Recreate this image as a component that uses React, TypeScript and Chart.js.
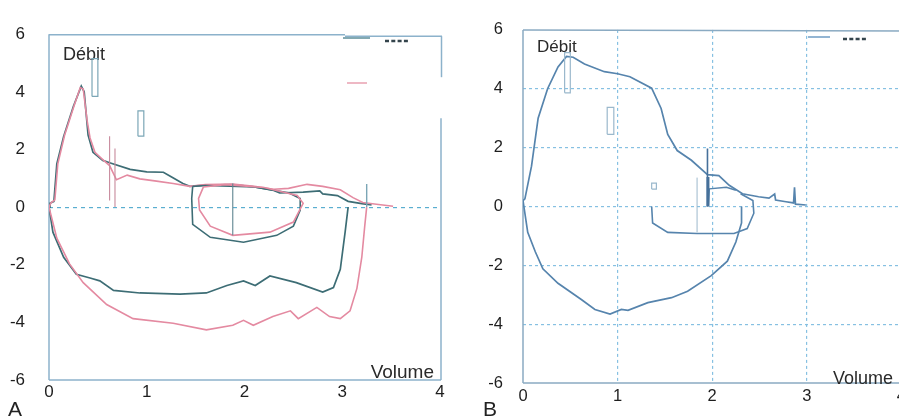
import React, { useEffect, useRef } from "react";
import { Chart, registerables } from "chart.js";
Chart.register(...registerables);

type P = [number, number];

// ---------- tick values ----------
const volumeTicks = [0, 1, 2, 3, 4];
const flowTicks = [-6, -4, -2, 0, 2, 4, 6];
const gridVolB = [1, 2, 3];
const gridFlowB = [-4, -2, 0, 2, 4];

// ---------- Panel A : dark (pre) curve ----------
const aDarkExp: P[] = [
  [0, 0], [0.01, 0.13], [0.05, 0.2], [0.08, 1.5], [0.15, 2.45], [0.25, 3.5], [0.33, 4.2],
  [0.36, 4.0], [0.4, 2.5], [0.45, 1.9], [0.55, 1.62], [0.62, 1.54], [0.83, 1.31],
  [1.0, 1.22], [1.17, 1.21], [1.25, 1.05], [1.37, 0.82], [1.44, 0.72], [1.6, 0.76],
  [1.88, 0.78], [2.1, 0.7], [2.3, 0.58], [2.36, 0.49], [2.6, 0.52], [2.77, 0.56],
  [2.8, 0.46], [2.95, 0.4], [3.06, 0.2], [3.2, 0.12], [3.3, 0.08],
];
const aDarkInsp: P[] = [
  [0, 0], [0.04, -0.87], [0.15, -1.74], [0.28, -2.33], [0.42, -2.46], [0.52, -2.56],
  [0.66, -2.89], [0.93, -2.98], [1.34, -3.02], [1.61, -2.98], [1.82, -2.72], [1.99, -2.56],
  [2.11, -2.72], [2.26, -2.39], [2.53, -2.62], [2.8, -2.95], [2.91, -2.79], [2.98, -2.16],
  [3.03, -0.85], [3.06, 0],
];
const aDarkTidal: P[] = [
  [1.47, 0.72], [1.46, 0.3], [1.47, -0.6], [1.65, -1.05], [1.99, -1.22], [2.33, -0.98],
  [2.5, -0.66], [2.57, -0.1], [2.57, 0.3], [2.45, 0.5], [2.1, 0.7], [1.6, 0.75], [1.47, 0.72],
];

// ---------- Panel A : pink (post) curve ----------
const aPinkExp: P[] = [
  [0, 0], [0.02, 0.15], [0.06, 0.25], [0.09, 1.5], [0.16, 2.5], [0.26, 3.55], [0.32, 4.15],
  [0.35, 4.1], [0.39, 3.0], [0.42, 2.4], [0.47, 1.9], [0.55, 1.65], [0.62, 1.44],
  [0.69, 0.95], [0.8, 1.11], [0.93, 0.98], [1.1, 0.9], [1.27, 0.82], [1.44, 0.72],
  [1.6, 0.78], [1.88, 0.8], [2.1, 0.72], [2.3, 0.62], [2.45, 0.65], [2.64, 0.79],
  [2.8, 0.72], [2.98, 0.6], [3.11, 0.33], [3.21, 0.16], [3.35, 0.1], [3.52, 0.03],
];
const aPinkInsp: P[] = [
  [0, 0], [0.08, -1.08], [0.21, -1.97], [0.35, -2.62], [0.59, -3.38], [0.86, -3.87],
  [1.27, -4.03], [1.61, -4.26], [1.88, -4.1], [1.99, -3.93], [2.09, -4.1], [2.29, -3.8],
  [2.47, -3.6], [2.55, -3.87], [2.74, -3.48], [2.87, -3.8], [2.98, -3.87], [3.08, -3.6],
  [3.15, -2.82], [3.2, -1.74], [3.23, -0.66], [3.25, 0],
];
const aPinkTidal: P[] = [
  [1.58, 0.7], [1.53, 0.3], [1.54, -0.1], [1.65, -0.66], [1.88, -0.98], [2.26, -0.87],
  [2.5, -0.52], [2.6, 0.13], [2.54, 0.4], [2.2, 0.68], [1.8, 0.78], [1.58, 0.7],
];

// ---------- Panel A : markers ----------
const aRectPeak: P[] = [[0.44, 3.84], [0.5, 3.84], [0.5, 5.15], [0.44, 5.15], [0.44, 3.84]];
const aRectMid: P[] = [[0.91, 2.46], [0.97, 2.46], [0.97, 3.34], [0.91, 3.34], [0.91, 2.46]];
const aMarkPink: P[] = [[0.62, 0.23], [0.62, 2.46]];
const aMarkTeal: P[] = [[0.675, 0], [0.675, 2.03]];
const aMarkTidal: P[] = [[1.88, -0.98], [1.88, 0.82]];
const aMarkEnd: P[] = [[3.25, 0], [3.25, 0.8]];

// ---------- Panel B ----------
const bExp: P[] = [
  [0, 0.2], [0.02, 0.26], [0.09, 1.37], [0.16, 3.0], [0.26, 4.0], [0.37, 4.74], [0.46, 5.1],
  [0.53, 5.07], [0.65, 4.84], [0.86, 4.58], [1.0, 4.51], [1.13, 4.41], [1.36, 4.02],
  [1.46, 3.33], [1.53, 2.45], [1.63, 1.9], [1.78, 1.57], [1.95, 1.08], [2.07, 1.05],
  [2.18, 0.72], [2.32, 0.43], [2.49, 0.33], [2.6, 0.28], [2.66, 0.42], [2.67, 0.22],
  [2.78, 0.16], [2.86, 0.12], [2.87, 0.65], [2.88, 0.08], [2.99, 0.05],
];
const bInsp: P[] = [
  [0, 0.2], [0.05, -0.88], [0.13, -1.54], [0.21, -2.12], [0.37, -2.61], [0.62, -3.17],
  [0.76, -3.5], [0.92, -3.66], [1.04, -3.5], [1.11, -3.53], [1.32, -3.27], [1.57, -3.1],
  [1.74, -2.88], [1.99, -2.35], [2.16, -1.86], [2.25, -1.21], [2.31, -0.56], [2.31, 0],
];
const bTidal: P[] = [
  [1.36, 0], [1.37, -0.56], [1.53, -0.88], [1.84, -0.92], [2.23, -0.92], [2.37, -0.75],
  [2.44, -0.23], [2.43, 0.2], [2.3, 0.43],
];
const bTidalTop: P[] = [[1.96, 0.05], [1.97, 0.6], [2.15, 0.65], [2.25, 0.55]];
const bRectPeak: P[] = [[0.44, 3.86], [0.5, 3.86], [0.5, 5.23], [0.44, 5.23], [0.44, 3.86]];
const bRectMid: P[] = [[0.89, 2.45], [0.96, 2.45], [0.96, 3.37], [0.89, 3.37], [0.89, 2.45]];
const bSquare: P[] = [[1.36, 0.59], [1.41, 0.59], [1.41, 0.79], [1.36, 0.79], [1.36, 0.59]];
const bMarkThin: P[] = [[1.84, -0.88], [1.84, 0.98]];
const bMarkThick: P[] = [[1.95, 0], [1.95, 1.97]];
const bMarkBar: P[] = [[1.955, 0], [1.955, 1.0]];

// ---------- helpers ----------
const FONT = '"Liberation Sans", Arial, sans-serif';
const toXY = (pts: P[]) => pts.map(([x, y]) => ({ x, y }));
const ds = (pts: P[], color: string, width: number) => ({
  data: toXY(pts),
  borderColor: color,
  backgroundColor: color,
  borderWidth: width,
  showLine: true,
  pointRadius: 0,
  pointHoverRadius: 0,
  fill: false,
  tension: 0,
});

const makeOptions = (p: {
  padTop: number; padRight: number; yWidth: number; xHeight: number;
  yPad: number; xPad: number; fontSize: number;
  gridX?: number[]; gridY: number[]; gridColor: string; dash: number[];
}) => ({
  animation: false as const,
  responsive: false,
  events: [],
  layout: { padding: { top: p.padTop, right: p.padRight, left: 0, bottom: 0 } },
  plugins: { legend: { display: false }, tooltip: { enabled: false }, title: { display: false } },
  scales: {
    x: {
      type: "linear" as const,
      min: 0,
      max: 4,
      afterBuildTicks: (s: any) => { s.ticks = volumeTicks.map((v) => ({ value: v })); },
      afterFit: (s: any) => { s.height = p.xHeight; },
      grid: {
        display: !!p.gridX,
        drawTicks: false,
        lineWidth: 1.2,
        color: (c: any) => (p.gridX && c.tick && p.gridX.includes(c.tick.value) ? p.gridColor : "rgba(0,0,0,0)"),
      },
      border: { display: false, dash: p.dash },
      ticks: { padding: p.xPad, color: "#1e1e1e", font: { family: FONT, size: p.fontSize }, maxRotation: 0 },
    },
    y: {
      type: "linear" as const,
      min: -6,
      max: 6,
      afterBuildTicks: (s: any) => { s.ticks = flowTicks.map((v) => ({ value: v })); },
      afterFit: (s: any) => { s.width = p.yWidth; },
      grid: {
        drawTicks: false,
        lineWidth: 1.2,
        color: (c: any) => (c.tick && p.gridY.includes(c.tick.value) ? p.gridColor : "rgba(0,0,0,0)"),
      },
      border: { display: false, dash: p.dash },
      ticks: { padding: p.yPad, color: "#1e1e1e", font: { family: FONT, size: p.fontSize } },
    },
  },
});

const line = (ctx: CanvasRenderingContext2D, x1: number, y1: number, x2: number, y2: number) => {
  ctx.beginPath();
  ctx.moveTo(x1, y1);
  ctx.lineTo(x2, y2);
  ctx.stroke();
};

const decorA = {
  id: "decorA",
  beforeDatasetsDraw(chart: any) {
    const { ctx, chartArea: { left, right, top, bottom } } = chart;
    ctx.save();
    ctx.strokeStyle = "#8cb2cb";
    ctx.lineWidth = 1.5;
    line(ctx, left, top, left, bottom);
    line(ctx, left, bottom, right + 1, bottom);
    line(ctx, left, top + 0.5, left + 296, top + 0.5);
    line(ctx, left + 296, top + 2, right + 2, top + 2);
    line(ctx, right + 1.5, top + 2, right + 1.5, top + 43);
    line(ctx, right + 1, top + 84, right + 1, bottom);
    // legend
    ctx.lineWidth = 1.5;
    ctx.strokeStyle = "#5a8d98";
    line(ctx, 343, 38, 370, 38);
    ctx.strokeStyle = "#e8a0b0";
    line(ctx, 347, 83, 367, 83);
    ctx.strokeStyle = "#34444c";
    ctx.lineWidth = 2.5;
    ctx.setLineDash([4, 2.3]);
    line(ctx, 385, 41, 409, 41);
    ctx.setLineDash([]);
    // axis names
    ctx.fillStyle = "#2a2a2a";
    ctx.font = `18px ${FONT}`;
    ctx.textAlign = "left";
    ctx.textBaseline = "alphabetic";
    ctx.fillText("Débit", left + 14, top + 26);
    ctx.font = `19px ${FONT}`;
    ctx.textAlign = "right";
    ctx.fillText("Volume", right - 6, bottom - 2);
    ctx.restore();
  },
};

const decorB = {
  id: "decorB",
  beforeDatasetsDraw(chart: any) {
    const { ctx, chartArea: { left, right, top, bottom } } = chart;
    ctx.save();
    ctx.strokeStyle = "#8aaac2";
    ctx.lineWidth = 1.5;
    line(ctx, left, top, left, bottom);
    line(ctx, left, bottom, right + 5, bottom);
    line(ctx, left, top, right + 5, top + 1);
    // legend
    ctx.strokeStyle = "#6f9cc4";
    ctx.lineWidth = 1.5;
    line(ctx, 358, 37, 380, 37);
    ctx.strokeStyle = "#34444c";
    ctx.lineWidth = 2.5;
    ctx.setLineDash([4, 2.3]);
    line(ctx, 393, 39, 416, 39);
    ctx.setLineDash([]);
    // axis names
    ctx.fillStyle = "#2a2a2a";
    ctx.font = `17px ${FONT}`;
    ctx.textAlign = "left";
    ctx.textBaseline = "alphabetic";
    ctx.fillText("Débit", left + 14, top + 22);
    ctx.font = `18px ${FONT}`;
    ctx.textAlign = "right";
    ctx.fillText("Volume", left + 370, bottom + 1);
    ctx.restore();
  },
};

const DARK = "#3d6d75";
const PINK = "#e48aa1";
const MARK_TEAL = "#7ba6b6";
const MARK_PINK = "#c7899c";
const BLUE = "#5684ad";

export default function App() {
  const refA = useRef<HTMLCanvasElement>(null);
  const refB = useRef<HTMLCanvasElement>(null);

  useEffect(() => {
    const chartA = new Chart(refA.current as HTMLCanvasElement, {
      type: "scatter",
      data: {
        datasets: [
          ds(aRectPeak, MARK_TEAL, 1.2),
          ds(aRectMid, MARK_TEAL, 1.2),
          ds(aMarkPink, MARK_PINK, 1.1),
          ds(aMarkTeal, MARK_PINK, 1.1),
          ds(aMarkTidal, "#5e8590", 1.1),
          ds(aMarkEnd, MARK_TEAL, 1.4),
          ds(aPinkTidal, PINK, 1.6),
          ds(aDarkTidal, DARK, 1.6),
          ds(aPinkInsp, PINK, 1.6),
          ds(aPinkExp, PINK, 1.6),
          ds(aDarkInsp, DARK, 1.7),
          ds(aDarkExp, DARK, 1.7),
        ] as any,
      },
      options: makeOptions({
        padTop: 14, padRight: 10, yWidth: 49, xHeight: 40, yPad: 24, xPad: 2, fontSize: 17,
        gridY: [0], gridColor: "#5aaed0", dash: [4, 4],
      }) as any,
      plugins: [decorA],
    });

    const chartB = new Chart(refB.current as HTMLCanvasElement, {
      type: "scatter",
      data: {
        datasets: [
          ds(bRectPeak, "#9ab8cc", 1.2),
          ds(bRectMid, "#9ab8cc", 1.2),
          ds(bSquare, "#9ab8cc", 1.2),
          ds(bMarkThin, "#9cb8cc", 1),
          ds(bMarkThick, "#46709a", 1.6),
          ds(bMarkBar, "#46709a", 3),
          ds(bTidal, BLUE, 1.6),
          ds(bTidalTop, BLUE, 1.4),
          ds(bInsp, BLUE, 1.7),
          ds(bExp, BLUE, 1.7),
        ] as any,
      },
      options: makeOptions({
        padTop: 15, padRight: 7, yWidth: 73, xHeight: 37, yPad: 20, xPad: 4, fontSize: 16.5,
        gridX: gridVolB, gridY: gridFlowB, gridColor: "#86c0e2", dash: [3, 3],
      }) as any,
      plugins: [decorB],
    });

    return () => {
      chartA.destroy();
      chartB.destroy();
    };
  }, []);

  const letter: React.CSSProperties = {
    position: "absolute",
    top: 398,
    font: `21px ${FONT}`,
    lineHeight: "21px",
    color: "#222",
  };

  return (
    <div style={{ position: "fixed", left: 0, top: 0, width: 899, height: 420, overflow: "hidden", background: "#fff" }}>
      <canvas ref={refA} width={450} height={420} style={{ position: "absolute", left: 0, top: 0, width: 450, height: 420 }} />
      <canvas ref={refB} width={460} height={420} style={{ position: "absolute", left: 450, top: 0, width: 460, height: 420 }} />
      <div style={{ ...letter, left: 8 }}>A</div>
      <div style={{ ...letter, left: 483 }}>B</div>
    </div>
  );
}
